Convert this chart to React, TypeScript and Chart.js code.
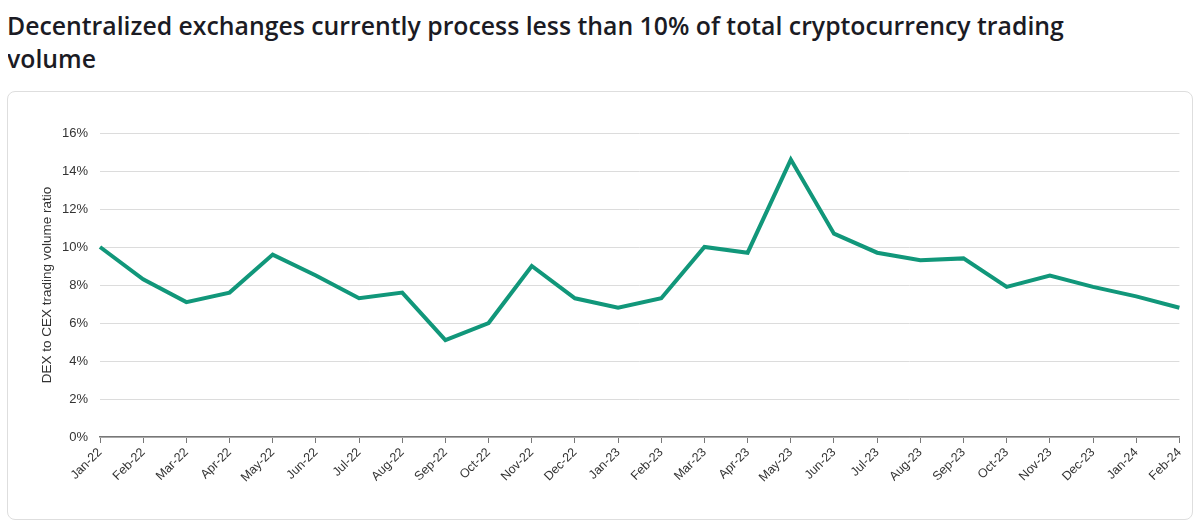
import React, { useEffect, useRef } from "react";
import { Chart, registerables } from "chart.js";

Chart.register(...registerables);

const titleText =
  "Decentralized exchanges currently process less than 10% of total cryptocurrency trading volume";
const yAxisTitle = "DEX to CEX trading volume ratio";

const months = [
  "Jan-22", "Feb-22", "Mar-22", "Apr-22", "May-22", "Jun-22", "Jul-22", "Aug-22",
  "Sep-22", "Oct-22", "Nov-22", "Dec-22", "Jan-23", "Feb-23", "Mar-23", "Apr-23",
  "May-23", "Jun-23", "Jul-23", "Aug-23", "Sep-23", "Oct-23", "Nov-23", "Dec-23",
  "Jan-24", "Feb-24",
];

const dexToCexRatio = [
  10.0, 8.3, 7.1, 7.6, 9.6, 8.5, 7.3, 7.6,
  5.1, 6.0, 9.0, 7.3, 6.8, 7.3, 10.0, 9.7,
  14.6, 10.7, 9.7, 9.3, 9.4, 7.9, 8.5, 7.9,
  7.4, 6.8,
];

const yTicks = [0, 2, 4, 6, 8, 10, 12, 14, 16];

export default function App() {
  const ref = useRef<HTMLCanvasElement | null>(null);

  useEffect(() => {
    if (!ref.current) return;
    const chart = new Chart(ref.current, {
      type: "line",
      data: {
        labels: months,
        datasets: [
          {
            data: dexToCexRatio,
            borderColor: "#11977a",
            borderWidth: 4,
            pointRadius: 0,
            tension: 0,
            fill: false,
          },
        ],
      },
      options: {
        animation: false,
        responsive: false,
        maintainAspectRatio: false,
        layout: { padding: { left: 31, top: 41, right: 9, bottom: 0 } },
        plugins: { legend: { display: false }, tooltip: { enabled: false } },
        scales: {
          x: {
            offset: false,
            grid: {
              drawOnChartArea: false,
              drawTicks: true,
              tickLength: 6,
              color: "#777",
            },
            border: { color: "#777", width: 1.5 },
            ticks: {
              maxRotation: 45,
              minRotation: 45,
              autoSkip: false,
              color: "#333",
              padding: 2,
              font: { family: "Arial, 'Liberation Sans'", size: 12.5 },
            },
            afterFit: (s: any) => {
              s.height = 82;
            },
          },
          y: {
            min: 0,
            max: 16,
            afterBuildTicks: (s: any) => {
              s.ticks = yTicks.map((v) => ({ value: v }));
            },
            grid: { color: "#dcdcdc", drawTicks: false, lineWidth: 1 },
            border: { display: false },
            ticks: {
              color: "#333",
              padding: 12,
              font: { family: "Arial, 'Liberation Sans'", size: 13 },
              callback: (v: any) => `${v}%`,
            },
            title: {
              display: true,
              text: yAxisTitle,
              color: "#333",
              padding: { top: 0, bottom: 4 },
              font: { family: "Arial, 'Liberation Sans'", size: 13.5 },
            },
            afterFit: (s: any) => {
              s.width = 61;
            },
          },
        },
      },
    });
    return () => chart.destroy();
  }, []);

  return (
    <div style={{ fontFamily: "'Open Sans', sans-serif" }}>
      <div
        style={{
          width: 1100,
          fontSize: 24.8,
          fontWeight: 600,
          lineHeight: "33px",
          color: "#1b1b24",
          marginTop: 1,
          marginLeft: -1,
        }}
      >
        {titleText}
      </div>
      <div
        style={{
          position: "absolute",
          left: 7,
          top: 91,
          width: 1184,
          height: 427,
          border: "1px solid #dedede",
          borderRadius: 8,
          background: "#fff",
        }}
      >
        <canvas ref={ref} width={1184} height={427} style={{ display: "block" }} />
      </div>
    </div>
  );
}
